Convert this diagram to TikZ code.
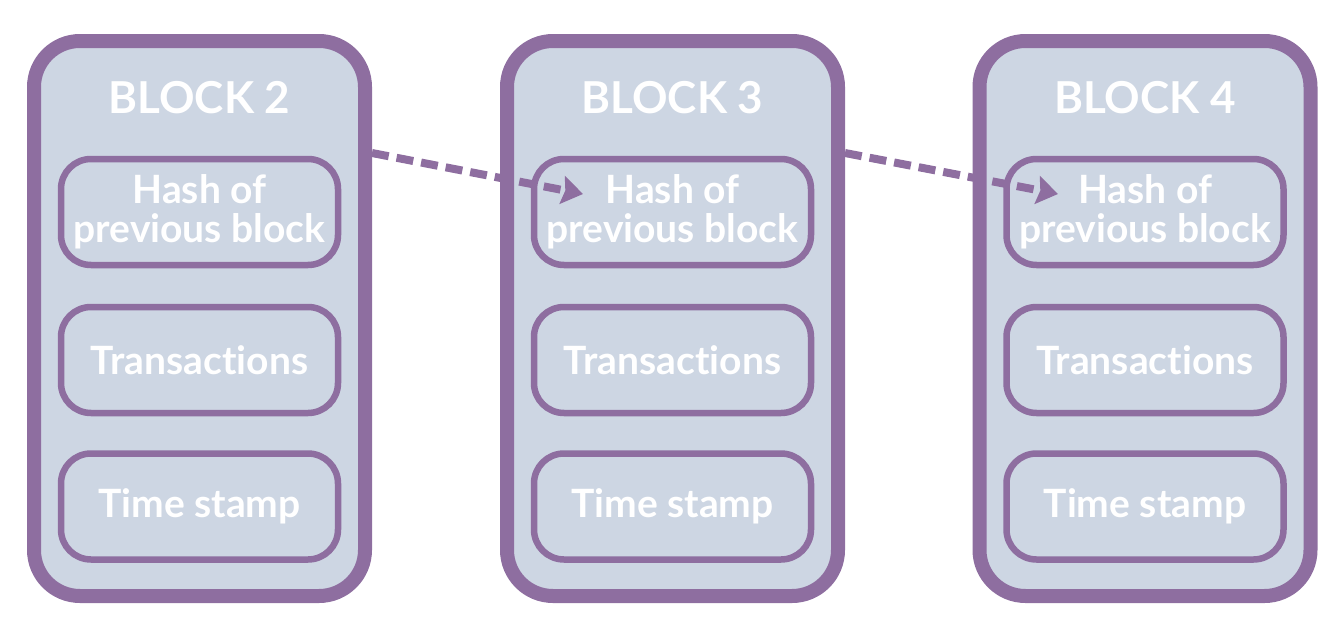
\documentclass[tikz,border=0pt]{standalone}
\usepackage{fontspec}
\setmainfont[Ligatures=NoCommon]{Lato}
\usepackage{xcolor}
\usetikzlibrary{arrows.meta}
\definecolor{plum}{RGB}{142,110,160}
\definecolor{paleblue}{RGB}{205,214,227}
\tikzset{block/.style={draw=plum,fill=paleblue,line width=14pt,rounded corners=46pt,
   minimum width=331pt,minimum height=555pt},
 field/.style={draw=plum,line width=6.5pt,rounded corners=30pt,minimum width=277pt,
   minimum height=106pt,text=white,align=center,font=\bfseries\fontsize{39}{39}\selectfont},
 title/.style={text=white,font=\bfseries\fontsize{44}{46}\selectfont},
 link/.style={draw=plum,line width=8pt,dash pattern=on 17pt off 8pt,
   -{Stealth[length=21pt,width=28pt,inset=3pt]}},
 }

\begin{document}
\begin{tikzpicture}[x=1pt,y=-1pt]
        \useasboundingbox (0,0) rectangle (1342,629);
        \foreach \n/\x in {2/199.5,3/672.5,4/1145}{
            \node[block] (b\n) at (\x,318.5) {};
            \node[title] (t\n) at (\x,98) {BLOCK \n};
            \node[field] (h\n) at (\x,212) {Hash of\\previous block};
            \node[field] (x\n) at (\x,360) {Transac\kern0pt tions};
            \node[field] (s\n) at (\x,506.5) {Time stamp};
        }
        \coordinate (e3) at (583,194);
        \coordinate (e4) at (1058,194);
        \draw[link] ([yshift=165.5pt]b2.east) -- (e3);
        \draw[link] ([yshift=165.5pt]b3.east) -- (e4);
    \end{tikzpicture}
\end{document}
